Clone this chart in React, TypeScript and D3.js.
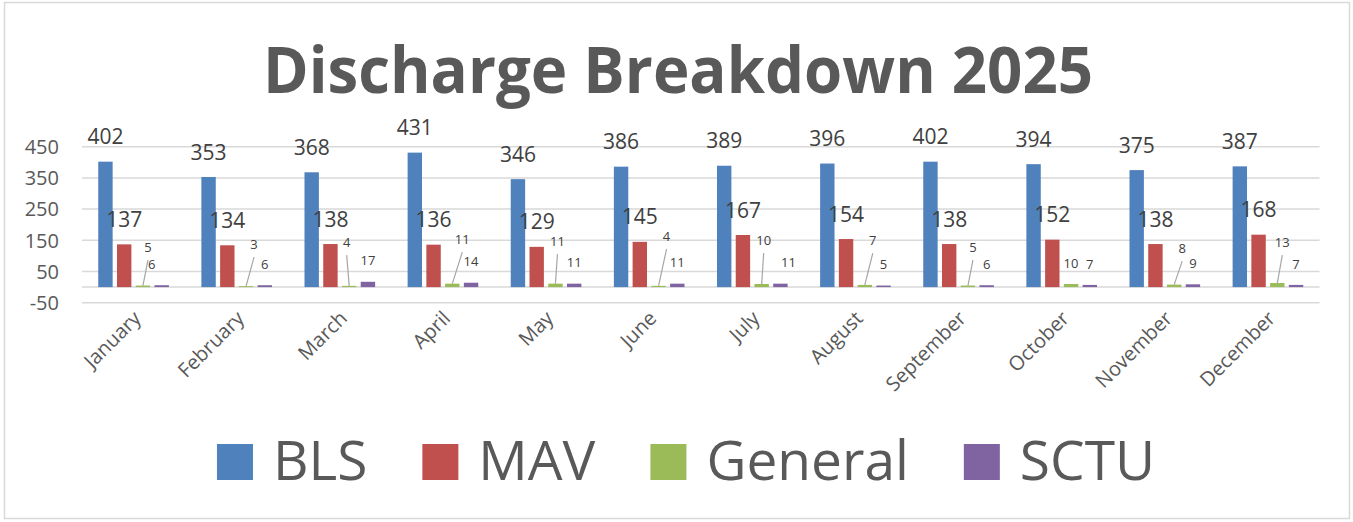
import React, { useEffect, useRef } from "react";
import * as d3 from "d3";

// chart values
const months = [
  "January",
  "February",
  "March",
  "April",
  "May",
  "June",
  "July",
  "August",
  "September",
  "October",
  "November",
  "December"
];
const seriesNames = ["BLS", "MAV", "General", "SCTU"];
const bls = [402, 353, 368, 431, 346, 386, 389, 396, 402, 394, 375, 387];
const mav = [137, 134, 138, 136, 129, 145, 167, 154, 138, 152, 138, 168];
const general = [5, 3, 4, 11, 11, 4, 10, 7, 5, 10, 8, 13];
const sctu = [6, 6, 17, 14, 11, 11, 11, 5, 6, 7, 9, 7];
const yTicks = [-50, 50, 150, 250, 350, 450];

const colors = ["#4F81BD", "#C0504D", "#9BBB59", "#8064A2"];

// hand placed label nudges (px), like the dragged labels in the original
const generalLabelDx = [5, 8, -2.5, 10, 2, 8, 2, 8, 5, 0, 8, 5];
const generalLabelDy = [-40, -43, -45, -48, -46, -51, -47, -47, -40, -24, -39, -45];
const sctuLabelDx = [-10, 0, 0, 0, 0, 0, 8, 0, 0, 0, 0, 0];

const W = 1353;
const H = 522;
const FONT = "'Open Sans', 'Liberation Sans', sans-serif";

export default function App() {
  const ref = useRef<SVGSVGElement>(null);

  useEffect(() => {
    const svg = d3.select(ref.current);
    svg.selectAll("*").remove();

    svg
      .append("rect")
      .attr("x", 4.5)
      .attr("y", 2.5)
      .attr("width", 1345)
      .attr("height", 516)
      .attr("fill", "white")
      .attr("stroke", "#d9d9d9")
      .attr("stroke-width", 1.5);

    // title
    svg
      .append("text")
      .attr("x", 263)
      .attr("y", 93)
      .attr("font-family", FONT)
      .attr("font-weight", "bold")
      .attr("font-size", 64)
      .attr("fill", "#595959")
      .attr("textLength", 830)
      .attr("lengthAdjust", "spacingAndGlyphs")
      .text("Discharge Breakdown 2025");

    var yScale = d3.scaleLinear().domain([-50, 450]).range([302.7, 146.7]);

    var xScale = d3
      .scaleBand()
      .domain(months)
      .range([82, 1319.5])
      .paddingInner(0.315)
      .paddingOuter(0.1575);

    var inner = d3
      .scaleBand()
      .domain(seriesNames)
      .range([0, xScale.bandwidth()])
      .paddingInner(0.232);

    // gridlines
    svg
      .selectAll(".grid")
      .data(yTicks)
      .enter()
      .append("line")
      .attr("x1", 82)
      .attr("x2", 1319.5)
      .attr("y1", d => yScale(d))
      .attr("y2", d => yScale(d))
      .attr("stroke", "#d9d9d9")
      .attr("stroke-width", 1.5);

    svg
      .append("line")
      .attr("x1", 82)
      .attr("x2", 1319.5)
      .attr("y1", yScale(0))
      .attr("y2", yScale(0))
      .attr("stroke", "#d9d9d9")
      .attr("stroke-width", 1.5);

    svg
      .selectAll(".ytick")
      .data(yTicks)
      .enter()
      .append("text")
      .attr("x", 59)
      .attr("y", d => yScale(d))
      .attr("dy", "0.36em")
      .attr("text-anchor", "end")
      .attr("font-family", FONT)
      .attr("font-size", 20)
      .attr("fill", "#595959")
      .text(d => d);

    // category labels
    svg
      .selectAll(".xlab")
      .data(months)
      .enter()
      .append("text")
      .attr(
        "transform",
        d => `translate(${xScale(d)! + xScale.bandwidth() / 2 - 2},309) rotate(-45)`
      )
      .attr("dy", "0.75em")
      .attr("text-anchor", "end")
      .attr("font-family", FONT)
      .attr("font-size", 20)
      .attr("fill", "#595959")
      .text(d => d);

    var allSeries = [bls, mav, general, sctu];
    var barX = (s: number, i: number) => xScale(months[i])! + inner(seriesNames[s])!;
    var barMid = (s: number, i: number) => barX(s, i) + inner.bandwidth() / 2;

    allSeries.forEach((values, s) => {
      svg
        .selectAll(".bar" + s)
        .data(values)
        .enter()
        .append("rect")
        .attr("x", (d, i) => barX(s, i))
        .attr("width", inner.bandwidth())
        .attr("y", d => yScale(d))
        .attr("height", d => yScale(0) - yScale(d))
        .attr("fill", colors[s]);
    });

    // big labels for BLS and MAV
    [bls, mav].forEach((values, s) => {
      svg
        .selectAll(".lab" + s)
        .data(values)
        .enter()
        .append("text")
        .attr("x", (d, i) => barMid(s, i))
        .attr("y", d => yScale(d) - 25)
        .attr("dy", "0.36em")
        .attr("text-anchor", "middle")
        .attr("font-family", FONT)
        .attr("font-size", 21)
        .attr("fill", "#404040")
        .text(d => d);
    });

    // General labels with leader lines
    general.forEach((d, i) => {
      var bx = barMid(2, i);
      var lx = bx + generalLabelDx[i];
      var ly = yScale(0) + generalLabelDy[i];
      if (generalLabelDy[i] < -30) {
        svg
          .append("line")
          .attr("x1", bx)
          .attr("y1", yScale(d))
          .attr("x2", lx)
          .attr("y2", ly + 13)
          .attr("stroke", "#a6a6a6")
          .attr("stroke-width", 1.2);
      }
      svg
        .append("text")
        .attr("x", lx)
        .attr("y", ly)
        .attr("dy", "0.36em")
        .attr("text-anchor", "middle")
        .attr("font-family", FONT)
        .attr("font-size", 13)
        .attr("fill", "#404040")
        .text(d);
    });

    svg
      .selectAll(".labsctu")
      .data(sctu)
      .enter()
      .append("text")
      .attr("x", (d, i) => barMid(3, i) + sctuLabelDx[i])
      .attr("y", d => yScale(d) - 21)
      .attr("dy", "0.36em")
      .attr("text-anchor", "middle")
      .attr("font-family", FONT)
      .attr("font-size", 13)
      .attr("fill", "#404040")
      .text(d => d);

    // legend
    var legend = svg.append("g");
    var cursor = 0;
    seriesNames.forEach((name, s) => {
      var g = legend.append("g").attr("transform", `translate(${cursor},0)`);
      g.append("rect")
        .attr("x", 0)
        .attr("y", 444)
        .attr("width", 36)
        .attr("height", 36)
        .attr("fill", colors[s]);
      var t = g
        .append("text")
        .attr("x", 56)
        .attr("y", 480)
        .attr("font-family", FONT)
        .attr("font-size", 55)
        .attr("fill", "#595959")
        .text(name);
      var w = (t.node() as SVGTextElement).getComputedTextLength();
      cursor += 56 + w + (s < seriesNames.length - 1 ? 55 : 0);
    });
    legend.attr("transform", `translate(${686 - cursor / 2},0)`);
  }, []);

  return (
    <svg
      ref={ref}
      width={W}
      height={H}
      style={{ position: "absolute", left: 0, top: 0 }}
    />
  );
}
